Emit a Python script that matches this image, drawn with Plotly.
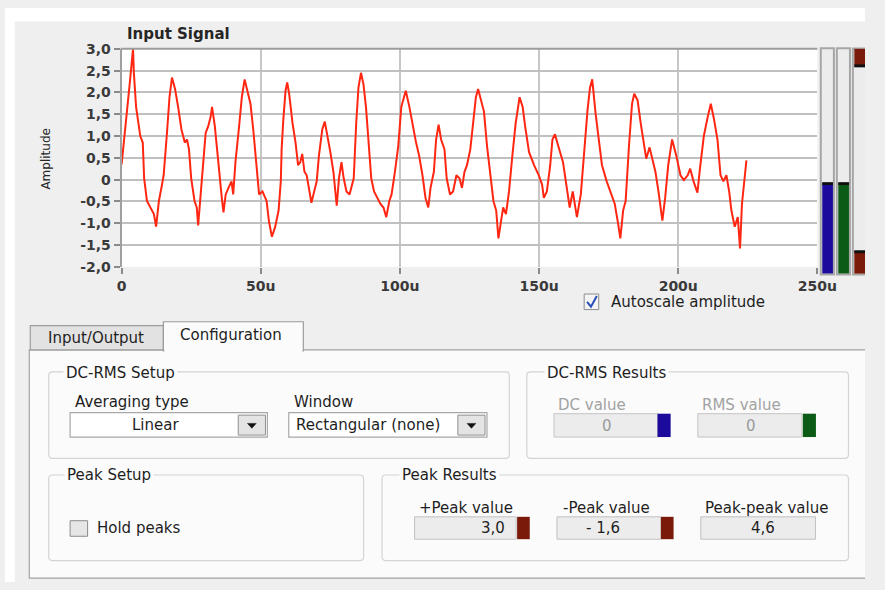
import plotly.graph_objects as go

W, H = 885, 590

# ---------------- data ----------------
time_us = [0.0, 0.6, 1.7, 2.9, 4.1, 4.4, 5.2, 6.7, 7.6, 8.1, 9.1, 10.5, 11.6, 12.4, 13.4, 14.5, 15.1,
           16.3, 17.2, 18.1, 19.2, 20.3, 21.5, 22.7, 23.5, 24.2, 25.0, 26.2, 27.0, 27.5, 28.2, 29.1,
           30.2, 31.1, 32.0, 32.5, 33.5, 34.3, 35.2, 36.0, 36.6, 37.4, 38.4, 39.5, 40.1, 40.9, 42.1,
           43.2, 44.2, 45.3, 46.3, 47.3, 48.2, 49.4, 50.6, 52.1, 52.9, 54.0, 55.2, 56.4, 57.2, 57.5,
           58.1, 58.9, 59.5, 60.2, 61.4, 62.5, 63.4, 64.2, 64.9, 65.7, 66.5, 67.4, 68.2, 69.2, 70.1,
           70.9, 72.1, 73.0, 73.8, 75.0, 76.1, 77.3, 78.1, 79.0, 79.8, 80.8, 81.9, 82.7, 83.4, 84.3,
           85.1, 86.0, 86.9, 87.8, 88.9, 89.7, 90.7, 91.8, 93.0, 94.1, 95.1, 96.2, 97.0, 98.2, 99.4,
           100.5, 102.1, 103.4, 104.6, 105.8, 106.9, 108.1, 109.2, 110.2, 111.0, 112.2, 113.0, 113.9,
           114.8, 116.0, 116.8, 118.0, 119.1, 120.3, 121.4, 122.3, 123.2, 124.1, 125.3, 126.5, 127.3,
           128.1, 129.3, 130.2, 131.3, 132.5, 133.6, 134.6, 135.4, 136.2, 137.1, 138.1, 139.2, 140.4,
           141.6, 143.0, 144.1, 145.0, 146.4, 148.2, 149.9, 151.1, 151.7, 152.8, 154.0, 154.8, 155.7,
           156.9, 158.6, 159.8, 161.0, 162.1, 163.6, 165.0, 166.2, 167.4, 168.3, 169.1, 170.3, 171.4,
           172.6, 174.3, 176.1, 177.2, 178.4, 179.2, 180.2, 181.1, 182.3, 183.4, 184.2, 185.4, 186.5,
           187.7, 188.5, 189.7, 190.8, 191.8, 192.9, 194.3, 195.3, 196.4, 197.8, 199.3, 200.8, 202.0,
           203.4, 204.3, 205.5, 206.9, 207.8, 209.2, 210.6, 211.7, 212.9, 214.1, 215.2, 216.2, 217.3,
           218.3, 219.1, 220.3, 221.4, 222.2, 222.9, 223.7, 224.5]
amplitude = [0.35, 0.70, 1.44, 2.19, 3.0, 2.45, 1.67, 1.00, 0.85, 0.03, -0.49, -0.64, -0.79, -1.08, -0.49,
             -0.12, 0.10, 1.07, 1.89, 2.34, 2.08, 1.67, 1.15, 0.85, 0.92, 0.70, 0.03, -0.49, -0.64, -1.05,
             -0.49, 0.18, 1.07, 1.22, 1.44, 1.67, 1.22, 0.70, 0.03, -0.42, -0.75, -0.34, -0.19, -0.04,
             -0.34, 0.40, 1.15, 1.89, 2.30, 2.04, 1.74, 1.15, 0.55, -0.34, -0.27, -0.49, -0.94, -1.31,
             -1.08, -0.71, -0.04, 0.70, 1.37, 2.04, 2.23, 1.97, 1.30, 0.85, 0.33, 0.40, 0.59, 0.18, 0.10,
             -0.27, -0.53, -0.27, -0.04, 0.55, 1.15, 1.33, 1.07, 0.63, 0.18, -0.60, 0.03, 0.40, 0.03,
             -0.27, -0.34, -0.12, 0.03, 1.30, 2.11, 2.45, 2.19, 1.67, 0.70, 0.03, -0.27, -0.42, -0.56,
             -0.64, -0.86, -0.49, -0.34, 0.18, 0.77, 1.67, 2.04, 1.67, 1.22, 0.85, 0.55, 0.10, -0.42,
             -0.64, -0.19, 0.18, 0.92, 1.26, 0.92, 0.70, 0.03, -0.34, -0.27, 0.10, 0.03, -0.19, 0.18,
             0.33, 0.70, 1.44, 1.89, 2.08, 1.74, 1.56, 0.77, 0.03, -0.49, -0.71, -1.35, -1.01, -0.64,
             -0.79, -0.27, 0.55, 1.30, 1.89, 1.67, 1.22, 0.63, 0.33, 0.10, -0.12, -0.42, -0.27, 0.33,
             0.92, 1.04, 0.77, 0.40, -0.12, -0.64, -0.27, -0.86, -0.34, 0.70, 1.59, 2.11, 2.30, 1.52,
             0.92, 0.33, -0.04, -0.34, -0.56, -1.01, -1.35, -0.71, -0.49, 0.77, 1.74, 1.97, 1.82, 1.30,
             0.85, 0.48, 0.74, 0.48, 0.18, -0.27, -0.94, -0.42, 0.33, 0.92, 0.55, 0.10, -0.01, 0.10,
             0.25, -0.04, -0.30, 0.25, 1.00, 1.44, 1.74, 1.37, 0.92, 0.10, -0.04, 0.10, -0.27, -0.71,
             -1.08, -0.86, -1.58, -0.56, 0.03, 0.44]

x_tick_vals = [0, 50, 100, 150, 200, 250]
x_tick_text = ["0", "50u", "100u", "150u", "200u", "250u"]
y_tick_vals = [-2.0, -1.5, -1.0, -0.5, 0.0, 0.5, 1.0, 1.5, 2.0, 2.5, 3.0]
y_tick_text = ["-2,0", "-1,5", "-1,0", "-0,5", "0", "0,5", "1,0", "1,5", "2,0", "2,5", "3,0"]

dc_value_text = "0"
rms_value_text = "0"
pos_peak_text = "3,0"
neg_peak_text = "- 1,6"
peak_peak_text = "4,6"

# ---------------- helpers (figure pixel -> paper) ----------------
FONT = "DejaVu Sans"
PANEL = "#fbfbfb"
shapes = []
annotations = []


def X(x):
    return min(x, W) / W


def Y(y):
    return 1 - min(y, H) / H


def rect(x0, y0, x1, y1, fill, line=None, lw=1, layer="above"):
    shapes.append(dict(type="rect", xref="paper", yref="paper",
                       x0=X(x0), x1=X(x1), y0=Y(y1), y1=Y(y0),
                       fillcolor=fill,
                       line=dict(color=line or fill, width=lw if line else 0),
                       layer=layer))


def path(points, fill=None, line="#000", lw=1, closed=True):
    d = "M " + " L ".join(f"{X(px):.5f},{Y(py):.5f}" for px, py in points)
    if closed:
        d += " Z"
    shapes.append(dict(type="path", xref="paper", yref="paper", path=d,
                       fillcolor=fill if fill else "rgba(0,0,0,0)",
                       line=dict(color=line, width=lw), layer="above"))


def rounded(x0, y0, x1, y1, r=4, line="#d4d4d4", fill=PANEL):
    rx, ry = r / W, r / H
    a0, a1, b0, b1 = X(x0), X(x1), Y(y1), Y(y0)
    d = (f"M {a0+rx},{b1} L {a1-rx},{b1} Q {a1},{b1} {a1},{b1-ry} "
         f"L {a1},{b0+ry} Q {a1},{b0} {a1-rx},{b0} L {a0+rx},{b0} "
         f"Q {a0},{b0} {a0},{b0+ry} L {a0},{b1-ry} Q {a0},{b1} {a0+rx},{b1} Z")
    shapes.append(dict(type="path", xref="paper", yref="paper", path=d,
                       fillcolor=fill, line=dict(color=line, width=1.2), layer="above"))


def txt(x, y, s, size=15, color="#1e1e1e", anchor="left", bg=None, angle=0):
    annotations.append(dict(x=X(x), y=Y(y), xref="paper", yref="paper", text=s,
                            showarrow=False, xanchor=anchor, yanchor="middle",
                            textangle=angle,
                            font=dict(family=FONT, size=size, color=color),
                            bgcolor=bg, borderpad=2 if bg else 1))


# ---------------- background ----------------
rect(0, 0, W, 14, "#ffffff", layer="below")
rect(0, 0, 10, H, "#ffffff", layer="below")

# plot frame: top border
path([(119, 42), (836, 42)], line="#9c9c9c", lw=2, closed=False)

# ---------------- right meters ----------------
for (bx0, bx1) in [(839.5, 853), (856, 869.5)]:
    rect(bx0, 41.5, bx1, 274, "#ececec", "#a6a6a6", 2)
rect(872.5, 41.5, W, 274, "#ececec")
path([(885, 41.5), (872.5, 41.5), (872.5, 274), (885, 274)], line="#a6a6a6", lw=2, closed=False)
rect(841, 180, 852, 273, "#1c0a9c")
rect(841, 179, 852, 182, "#101010")
rect(857.5, 180, 868.5, 273, "#0b5a16")
rect(857.5, 179, 868.5, 182, "#101010")
rect(874, 42, W, 60, "#7a1a0a")
rect(874, 58, W, 61, "#101010")
rect(874, 250, W, 273, "#7a1a0a")
rect(874, 249, W, 252, "#101010")

# ---------------- title / axis title / autoscale ----------------
txt(123, 27, "<b>Input Signal</b>", size=15, color="#262626")
txt(42, 155, "Amplitude", size=12, color="#262626", anchor="center", angle=-90)

rect(596, 294, 611, 310, "#f4f4f4", "#8c8c8c", 1)
path([(599, 302), (603, 307), (609, 296)], line="#2a4fb8", lw=2, closed=False)
txt(622, 302, "Autoscale amplitude")

# ---------------- tabs & panel ----------------
rect(25, 351.5, W, 586, PANEL)
path([(W, 351.5), (25, 351.5), (25, 586), (W, 586)], line="#a4a4a4", lw=1.2, closed=False)
rect(26, 326.5, 163, 351.5, "#e2e2e2", "#9c9c9c", 1.2)
rect(163, 322.5, 307, 352.5, PANEL, "#9c9c9c", 1.2)
rect(164, 350, 306, 353.5, PANEL)
txt(42, 339, "Input/Output")
txt(178, 336, "Configuration")

# group boxes
rounded(45, 374, 519, 463)
rounded(537, 374, 868, 463)
rounded(45, 480, 369, 568)
rounded(388, 480, 868, 568)
txt(60, 375, "DC-RMS Setup", bg=PANEL)
txt(555, 375, "DC-RMS Results", bg=PANEL)
txt(61, 480, "Peak Setup", bg=PANEL)
txt(405, 480, "Peak Results", bg=PANEL)

# DC-RMS setup controls
txt(70, 405, "Averaging type")
rect(67, 416, 270, 441, "#ffffff", "#a8a8a8", 1.2)
rect(240, 418.5, 268, 439, "#e4e4e4", "#909090", 1)
path([(249.5, 427), (258.5, 427), (254, 432)], fill="#111111", line="#111111", lw=0.5)
txt(155, 428.5, "Linear", anchor="center")

txt(295, 405, "Window")
rect(292, 416, 496, 441, "#ffffff", "#a8a8a8", 1.2)
rect(466, 418.5, 494, 439, "#e4e4e4", "#909090", 1)
path([(475.5, 427), (484.5, 427), (480, 432)], fill="#111111", line="#111111", lw=0.5)
txt(297, 428.5, "Rectangular (none)")

# DC-RMS results
txt(567, 408, "DC value", color="#a2a2a2")
rect(565, 417, 671.5, 441, "#ececec", "#c4c4c4", 1)
rect(671.5, 417, 685, 441, "#1c0a9c")
txt(620, 429.5, dc_value_text, color="#9a9a9a", anchor="center")
txt(715, 408, "RMS value", color="#a2a2a2")
rect(713, 417, 820, 441, "#ececec", "#c4c4c4", 1)
rect(821, 417, 834.5, 441, "#0b5a16")
txt(768, 429.5, rms_value_text, color="#9a9a9a", anchor="center")

# Peak setup
rect(67, 527, 85, 543, "#e6e6e6", "#8c8c8c", 1)
txt(93, 535, "Hold peaks")

# Peak results
txt(424, 514, "+Peak value")
rect(421.5, 523, 526, 546, "#ececec", "#c0c0c0", 1)
rect(527, 523, 540, 546, "#7a1a0a")
txt(502, 535, pos_peak_text, anchor="center")
txt(572, 514, "-Peak value")
rect(568, 523, 675, 546, "#ececec", "#c0c0c0", 1)
rect(675, 523, 688, 546, "#7a1a0a")
txt(615, 535, neg_peak_text, anchor="center")
txt(718, 514, "Peak-peak value")
rect(716, 523, 834, 546, "#ececec", "#c0c0c0", 1)
txt(780, 535, peak_peak_text, anchor="center")

# ---------------- figure ----------------
fig = go.Figure()
fig.add_trace(go.Scatter(x=time_us, y=amplitude, mode="lines",
                         line=dict(color="#ff2612", width=2),
                         hoverinfo="skip", showlegend=False))

tickfont = dict(family=FONT, size=14, color="#3a3a3a", weight="bold")
fig.update_layout(
    width=W, height=H, autosize=False,
    margin=dict(l=0, r=0, t=0, b=0),
    paper_bgcolor="#efefef", plot_bgcolor="#ffffff",
    showlegend=False,
    xaxis=dict(domain=[120 / W, 836 / W], range=[0, 250],
               tickvals=x_tick_vals, ticktext=x_tick_text,
               showgrid=True, gridcolor="#c6c6c6", gridwidth=1.5,
               zeroline=False, showline=False,
               ticks="outside", ticklen=6, tickwidth=2, tickcolor="#8a8a8a",
               tickfont=tickfont, fixedrange=True),
    yaxis=dict(domain=[1 - 266 / H, 1 - 42 / H], range=[-2, 3],
               tickvals=y_tick_vals, ticktext=y_tick_text,
               showgrid=True, gridcolor="#c0c0c0", gridwidth=1.5,
               zeroline=False, showline=True, linecolor="#a0a0a0", linewidth=2,
               ticks="outside", ticklen=6, tickwidth=2, tickcolor="#8a8a8a",
               tickfont=tickfont, fixedrange=True),
    shapes=shapes,
    annotations=annotations,
)

fig.write_html("out.html", config={"displayModeBar": False},
               post_script=("document.documentElement.style.overflow='hidden';"
                            "document.body.style.margin='0';"
                            "document.body.style.overflow='hidden';"))
